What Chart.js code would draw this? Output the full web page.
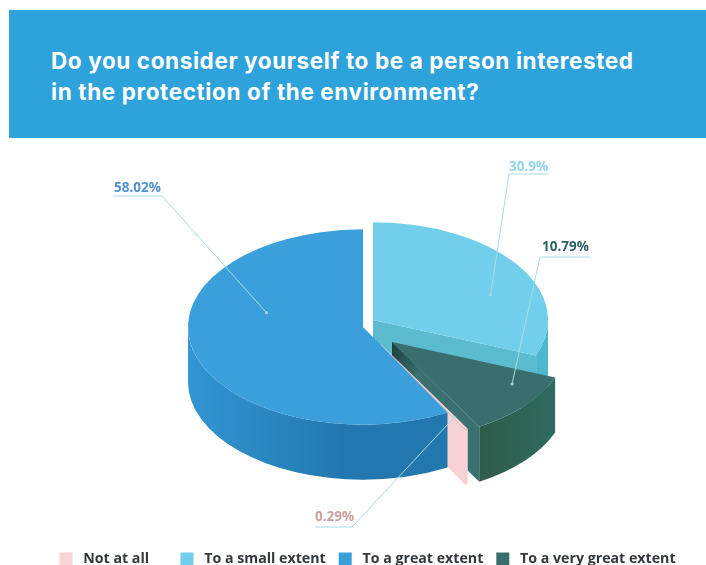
<!DOCTYPE html>
<html>
<head>
<meta charset="utf-8">
<title>Environment survey</title>
<script src="https://cdn.jsdelivr.net/npm/chart.js@4"></script>
<style>
    html, body { margin: 0; padding: 0; background: #fff; overflow: hidden; }
    #page { position: relative; width: 706px; height: 565px; }
    #banner {
        position: absolute; left: 9px; top: 10px; right: 0; height: 128px;
        background: #2ea2db; color: #fff; box-sizing: border-box;
        padding: 35px 0 0 42px;
        font: 700 22.5px/31px Inter, sans-serif; letter-spacing: 0.6px;
    }
    canvas { position: absolute; left: 0; top: 0; }
</style>
</head>
<body>
<div id="page">
    <div id="banner">Do you consider yourself to be a person interested<br>in the protection of the environment?</div>
    <canvas id="chart" width="706" height="565"></canvas>
</div>
<script>
// Slices clockwise from twelve o'clock
const categories = ['To a small extent', 'To a very great extent', 'Not at all', 'To a great extent'];
const values = [30.9, 10.79, 0.29, 58.02];
// The legend lists the answers in survey order
const legendOrder = ['Not at all', 'To a small extent', 'To a great extent', 'To a very great extent'];

const topColors = ['#72cfeb', '#3a6e6e', '#f8d6d6', '#3b9fdc'];
const outerWallColors = [['#4cb8cf', '#4cb8cf'], ['#2f5c48', '#2f6a60'], ['#f8d2d2', '#f8d2d2'], ['#3295d4', '#2278ae']];
const cutWallColors = ['#5cbccf', '#3a7070', '#f8d2d2', '#2278ae'];
const labelColors = ['#93d5ec', '#2e5f63', '#c9a09c', '#4f93cc'];

// Tilt and extrusion of the pie
const tilt = 0.558;
const depth = 55;
const centerY = 327;
// How far each slice is pulled out of the pie, in pixels
const sliceShift = [[5.5, -7], [24.5, 15], [13, 17], [-4.5, 0]];
// Painted back to front
const paintOrder = [0, 1, 2, 3];

// Value labels: text position, underline extent, and where the leader lands inside the slice
const labelBoxes = [
    { x: 509, y: 167, lineY: 174, x1: 509, x2: 549, from: 509, sweep: 0.62, reach: 0.72 },
    { x: 542, y: 247, lineY: 257, x1: 540, x2: 590, from: 540, sweep: 0.28, reach: 0.81 },
    { x: 315, y: 517, lineY: 527, x1: 315, x2: 352, from: 352, sweep: 0.5, reach: 0.86 },
    { x: 114, y: 188, lineY: 196, x1: 113, x2: 162, from: 162, sweep: 0.64, reach: 0.57 }
];

function apexOf(arc, i) {
    return { x: arc.x + sliceShift[i][0], y: centerY + sliceShift[i][1] };
}

function drawWalls(ctx, arc, i) {
    const apex = apexOf(arc, i);
    const r = arc.outerRadius;
    const a0 = arc.startAngle;
    const a1 = arc.endAngle;

    // Cut face on the clockwise end of the slice, only seen when it faces the viewer
    if (Math.sin(a1) > 0.01) {
        const ex = apex.x + r * Math.cos(a1);
        const ey = apex.y + r * tilt * Math.sin(a1);
        const fill = ctx.createLinearGradient(apex.x, apex.y, ex, ey);
        fill.addColorStop(0, i === 1 ? '#1c3a3a' : cutWallColors[i]);
        fill.addColorStop(0.35, cutWallColors[i]);
        ctx.fillStyle = fill;
        ctx.beginPath();
        ctx.moveTo(apex.x, apex.y);
        ctx.lineTo(ex, ey);
        ctx.lineTo(ex, ey + depth);
        ctx.lineTo(apex.x, apex.y + depth);
        ctx.closePath();
        ctx.fill();
    }

    // Rim, front half only
    const from = Math.max(a0, 0);
    const to = Math.min(a1, Math.PI);
    if (to > from) {
        const left = apex.x + r * Math.cos(to);
        const right = apex.x + r * Math.cos(from);
        const fill = ctx.createLinearGradient(left, 0, right, 0);
        fill.addColorStop(0, outerWallColors[i][0]);
        fill.addColorStop(i === 3 ? 0.6 : 1, outerWallColors[i][1]);
        ctx.fillStyle = fill;
        ctx.beginPath();
        ctx.ellipse(apex.x, apex.y, r, r * tilt, 0, from, to);
        ctx.ellipse(apex.x, apex.y + depth, r, r * tilt, 0, to, from, true);
        ctx.closePath();
        ctx.fill();
    }
}

const pie3d = {
    id: 'pie3d',
    beforeDatasetDraw(chart, args) {
        const ctx = chart.ctx;
        const arcs = chart.getDatasetMeta(args.index).data;
        paintOrder.forEach(i => drawWalls(ctx, arcs[i], i));
        // Top faces come from the arc elements, flattened onto the tilted plane
        paintOrder.forEach(i => {
            const apex = apexOf(arcs[i], i);
            ctx.save();
            ctx.translate(apex.x, apex.y);
            ctx.scale(1, tilt);
            ctx.translate(-arcs[i].x, -arcs[i].y);
            arcs[i].draw(ctx);
            ctx.restore();
        });
        return false;
    },
    afterDatasetsDraw(chart) {
        const ctx = chart.ctx;
        const arcs = chart.getDatasetMeta(0).data;
        labelBoxes.forEach((box, i) => {
            const arc = arcs[i];
            const apex = apexOf(arc, i);
            const angle = arc.startAngle + (arc.endAngle - arc.startAngle) * box.sweep;
            const r = arc.outerRadius * box.reach;
            const px = apex.x + r * Math.cos(angle);
            const py = apex.y + r * tilt * Math.sin(angle);

            ctx.strokeStyle = '#a8dbe4';
            ctx.lineWidth = 1;
            ctx.beginPath();
            ctx.moveTo(box.x1, box.lineY);
            ctx.lineTo(box.x2, box.lineY);
            ctx.moveTo(box.from, box.lineY);
            ctx.lineTo(px, py);
            ctx.stroke();

            ctx.fillStyle = '#a8dbe4';
            ctx.beginPath();
            ctx.arc(px, py, 1.5, 0, Math.PI * 2);
            ctx.fill();

            ctx.fillStyle = labelColors[i];
            ctx.font = '700 13.5px "Open Sans", sans-serif';
            ctx.textAlign = 'left';
            ctx.textBaseline = 'middle';
            ctx.fillText(values[i] + '%', box.x, box.y);
        });
    }
};

new Chart(document.getElementById('chart'), {
    type: 'pie',
    plugins: [pie3d],
    data: {
        labels: categories,
        datasets: [{
            data: values,
            backgroundColor: topColors,
            borderWidth: 0,
            hoverOffset: 0
        }]
    },
    options: {
        responsive: false,
        animation: false,
        radius: 175,
        layout: { padding: { left: 29, top: 140, bottom: -11 } },
        plugins: {
            title: { display: false },
            tooltip: { enabled: false },
            legend: {
                position: 'bottom',
                labels: {
                    boxWidth: 13,
                    boxHeight: 13,
                    padding: 13,
                    color: '#33383d',
                    font: { family: '"Open Sans", sans-serif', size: 14.2, weight: '700' },
                    // Non-breaking spaces open up the gaps between swatch and text, and after the first entry
                    generateLabels(chart) {
                        const items = Chart.overrides.pie.plugins.legend.labels.generateLabels(chart);
                        items.forEach(item => {
                            const tail = item.text === legendOrder[0] ? '\u00a0\u00a0\u00a0\u00a0\u00a0' : '';
                            item.text = '\u00a0' + item.text + tail;
                        });
                        return items;
                    },
                    sort: (a, b) => legendOrder.indexOf(a.text.trim()) - legendOrder.indexOf(b.text.trim())
                }
            }
        }
    }
});
</script>
</body>
</html>
